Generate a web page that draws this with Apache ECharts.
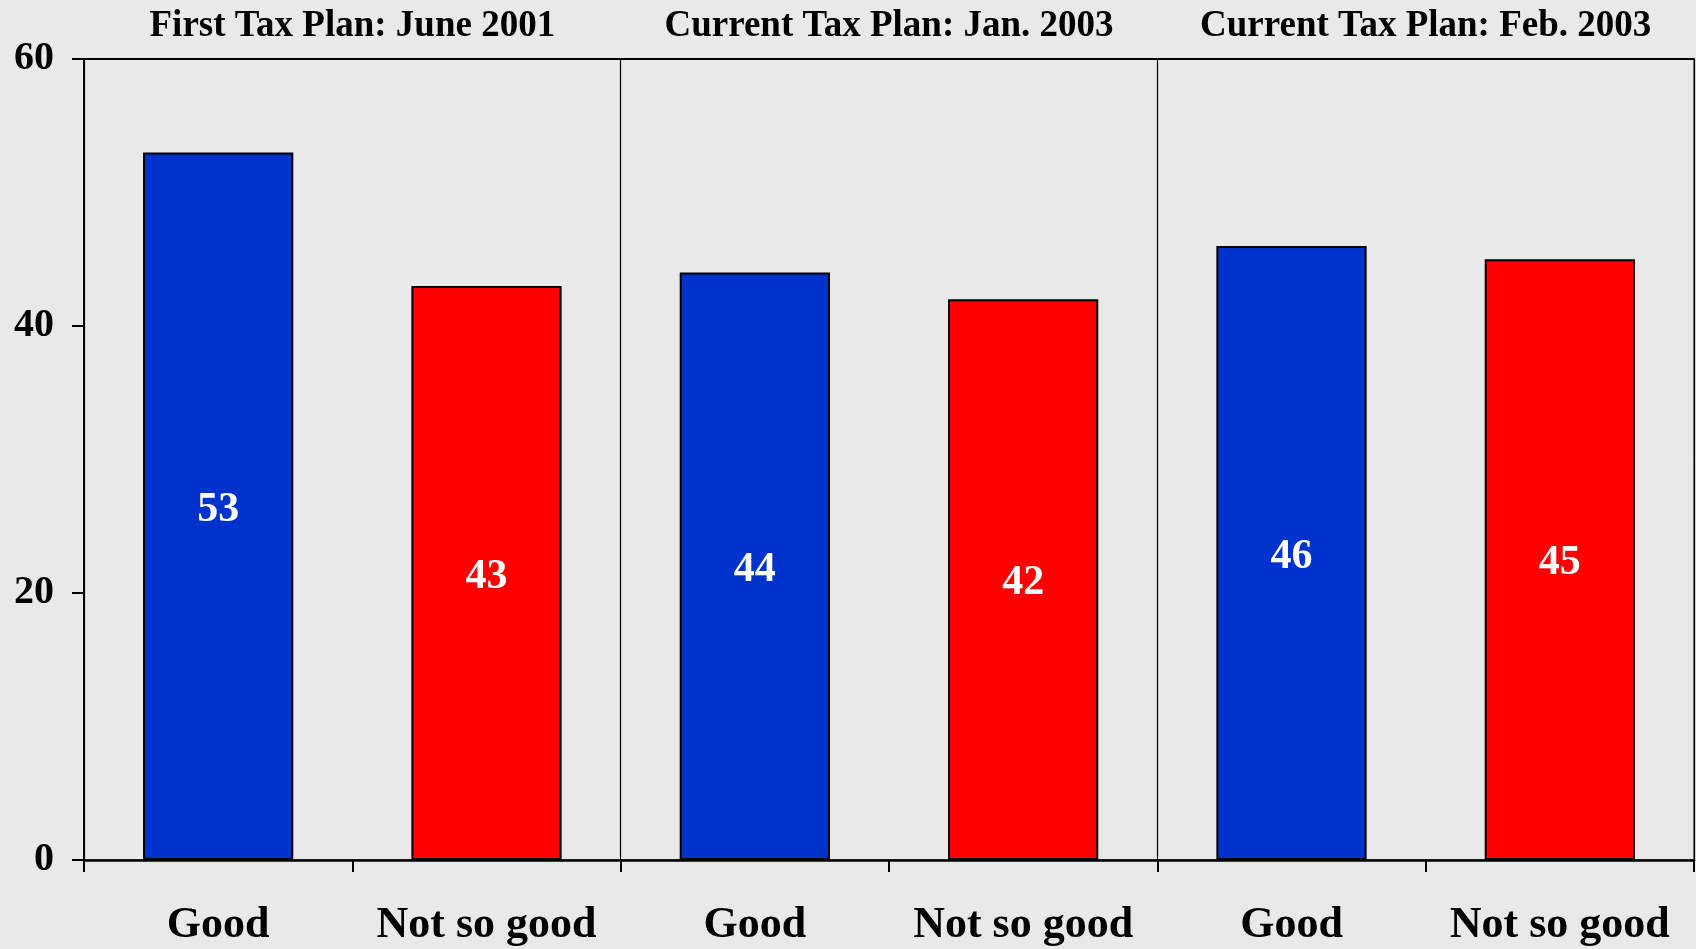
<!DOCTYPE html>
<html>
<head>
<meta charset="utf-8">
<script src="https://cdn.jsdelivr.net/npm/echarts@6/dist/echarts.min.js"></script>
<style>
  html, body { margin: 0; padding: 0; background: #e9e9e9; }
  #chart { width: 1696px; height: 949px; }
</style>
</head>
<body>
<div id="chart"></div>
<script>
// ---- data ----
const categories = ['Good', 'Not so good', 'Good', 'Not so good', 'Good', 'Not so good'];
const values = [53, 43, 44, 42, 46, 45];
const groupTitles = ['First Tax Plan: June 2001', 'Current Tax Plan: Jan. 2003', 'Current Tax Plan: Feb. 2003'];
const yTicks = { min: 0, max: 60, interval: 20 };
const colorMap = { 'Good': '#0033cc', 'Not so good': '#ff0000' };

const FONT = '"Liberation Serif", "Times New Roman", serif';

const chart = echarts.init(document.getElementById('chart'), null, { renderer: 'canvas' });
chart.setOption({
  backgroundColor: '#e9e9e9',
  animation: false,
  grid: {
    left: 84, right: 2, top: 59, bottom: 89,
    show: true, backgroundColor: '#e9e9e9', borderColor: '#000', borderWidth: 1
  },
  xAxis: [
    {
      type: 'category',
      data: categories,
      position: 'bottom',
      axisLine: { show: true, lineStyle: { color: '#000', width: 2.5 } },
      axisTick: { show: true, length: 12, lineStyle: { color: '#000', width: 2 } },
      axisLabel: {
        color: '#000', fontFamily: FONT, fontWeight: 'bold', fontSize: 44, margin: 44, interval: 0
      },
      splitLine: { show: false }
    },
    {
      type: 'category',
      data: groupTitles,
      position: 'top',
      axisLine: { show: true, lineStyle: { color: '#000', width: 2 } },
      axisTick: { show: false },
      axisLabel: {
        color: '#000', fontFamily: FONT, fontWeight: 'bold', fontSize: 37, margin: 14, interval: 0
      },
      splitLine: { show: true, lineStyle: { color: '#000', width: 1.2 } }
    }
  ],
  yAxis: {
    type: 'value',
    min: yTicks.min, max: yTicks.max, interval: yTicks.interval,
    axisLine: { show: true, lineStyle: { color: '#000', width: 2 } },
    axisTick: { show: true, length: 12, lineStyle: { color: '#000', width: 2 } },
    axisLabel: { color: '#000', fontFamily: FONT, fontWeight: 'bold', fontSize: 40, margin: 30 },
    splitLine: { show: false }
  },
  series: [{
    type: 'bar',
    xAxisIndex: 0,
    data: values,
    barWidth: '56%',
    itemStyle: {
      color: p => colorMap[p.name],
      borderColor: '#000',
      borderWidth: 2
    },
    label: {
      show: true, position: 'inside', color: '#fff',
      fontFamily: FONT, fontWeight: 'bold', fontSize: 42, offset: [0, 4]
    }
  }]
});
</script>
</body>
</html>
